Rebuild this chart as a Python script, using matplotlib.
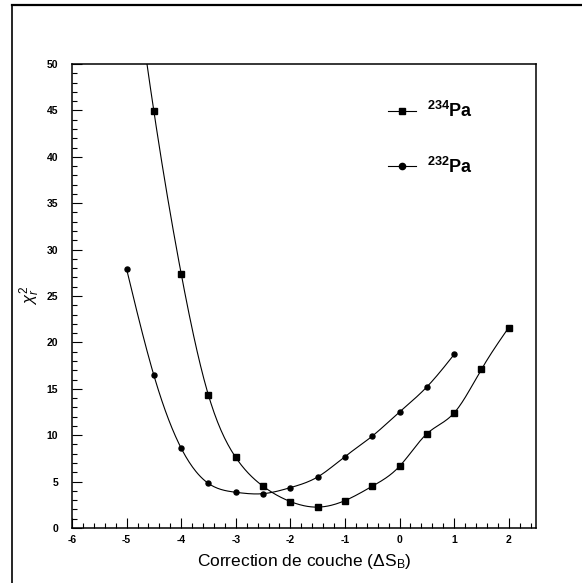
import numpy as np
import matplotlib
matplotlib.use("Agg")
import matplotlib.pyplot as plt
from matplotlib.lines import Line2D
from matplotlib.ticker import MultipleLocator

plt.rcParams["font.family"] = ["Liberation Sans", "DejaVu Sans"]
plt.rcParams["mathtext.fontset"] = "custom"
plt.rcParams["mathtext.rm"] = "Liberation Sans"
plt.rcParams["mathtext.it"] = "Liberation Sans:italic"
plt.rcParams["mathtext.bf"] = "Liberation Sans:bold"
plt.rcParams["axes.unicode_minus"] = False

# data
x_234 = [-5.0, -4.5, -4.0, -3.5, -3.0, -2.5, -2.0, -1.5, -1.0, -0.5, 0.0, 0.5, 1.0, 1.5, 2.0]
chi_234 = [66.0, 44.9, 27.4, 14.3, 7.6, 4.5, 2.85, 2.25, 2.95, 4.5, 6.65, 10.15, 12.4, 17.1, 21.6]

x_232 = [-5.0, -4.5, -4.0, -3.5, -3.0, -2.5, -2.0, -1.5, -1.0, -0.5, 0.0, 0.5, 1.0]
chi_232 = [27.9, 16.45, 8.6, 4.8, 3.85, 3.7, 4.35, 5.5, 7.7, 9.9, 12.5, 15.2, 18.7]

labels = [r"$\mathbf{^{234}}$Pa", r"$\mathbf{^{232}}$Pa"]


def spline(x, y, n=25):
    # natural cubic spline, only used to draw a smooth line through the points
    x = np.asarray(x, float)
    y = np.asarray(y, float)
    h = np.diff(x)
    m = len(x)
    A = np.zeros((m, m))
    b = np.zeros(m)
    A[0, 0] = A[-1, -1] = 1
    for i in range(1, m - 1):
        A[i, i - 1] = h[i - 1]
        A[i, i] = 2 * (h[i - 1] + h[i])
        A[i, i + 1] = h[i]
        b[i] = 6 * ((y[i + 1] - y[i]) / h[i] - (y[i] - y[i - 1]) / h[i - 1])
    M = np.linalg.solve(A, b)
    xs, ys = [], []
    for i in range(m - 1):
        t = np.linspace(x[i], x[i + 1], n)
        a = x[i + 1] - t
        c = t - x[i]
        s = (M[i] * a**3 + M[i + 1] * c**3) / (6 * h[i]) \
            + (y[i] / h[i] - M[i] * h[i] / 6) * a \
            + (y[i + 1] / h[i] - M[i + 1] * h[i] / 6) * c
        xs.append(t)
        ys.append(s)
    return np.concatenate(xs), np.concatenate(ys)


fig = plt.figure(figsize=(5.82, 5.83), dpi=100)
ax = fig.add_axes([72 / 582, 1 - 528 / 583, 464 / 582, 464 / 583])

for xd, yd, mk, ms in [(x_234, chi_234, "s", 3.8), (x_232, chi_232, "o", 3.6)]:
    sx, sy = spline(xd, yd)
    ax.plot(sx, sy, color="black", lw=0.8)
    ax.plot(xd, yd, ls="none", marker=mk, ms=ms, color="black")

handles = [Line2D([], [], color="black", lw=0.8, marker="s", ms=5),
           Line2D([], [], color="black", lw=0.8, marker="o", ms=4.5)]
ax.legend(handles, labels, loc="upper left", bbox_to_anchor=(0.645, 0.955),
          frameon=False, prop={"weight": "bold", "size": 13},
          handlelength=1.6, handletextpad=0.6, labelspacing=1.95)

ax.set_xlim(-6, 2.5)
ax.set_ylim(0, 50)
ax.xaxis.set_major_locator(MultipleLocator(1))
ax.xaxis.set_minor_locator(MultipleLocator(0.2))
ax.yaxis.set_major_locator(MultipleLocator(5))
ax.yaxis.set_minor_locator(MultipleLocator(1))
ax.tick_params(which="both", direction="in", labelsize=7.5, width=0.8)
ax.tick_params(which="major", length=7)
ax.tick_params(which="minor", length=3.5)
ax.tick_params(axis="y", pad=10)
ax.tick_params(axis="x", pad=5)
for t in ax.get_xticklabels() + ax.get_yticklabels():
    t.set_fontweight("bold")
for s in ax.spines.values():
    s.set_linewidth(1.1)

ax.set_xlabel(r"Correction de couche ($\Delta$S$_\mathrm{B}$)", fontsize=12.5, labelpad=5)
ax.set_ylabel(r"$\chi^2_r$", fontsize=12, labelpad=3)

# page frame of the scanned figure
fig.add_artist(Line2D([12 / 582, 1], [1 - 5 / 583, 1 - 5 / 583], color="black", lw=1.6))
fig.add_artist(Line2D([12 / 582, 12 / 582], [0, 1 - 5 / 583], color="black", lw=1.2))

fig.savefig("out.png", dpi=100)
